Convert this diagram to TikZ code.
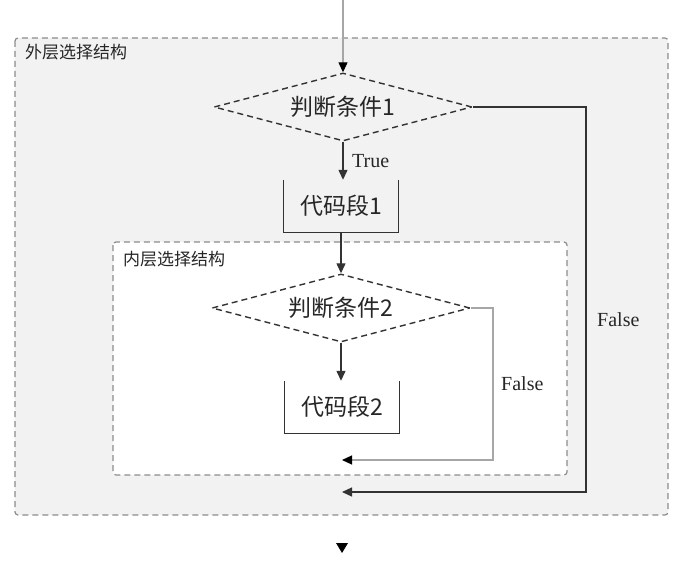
\documentclass[tikz,border=0pt]{standalone}
\usepackage{fontspec}
\setmainfont{Liberation Serif}
\newfontfamily\cjk{Noto Sans CJK SC}
\usetikzlibrary{shapes.geometric,arrows.meta}
\definecolor{outerbg}{HTML}{F2F2F2}
\definecolor{framegray}{HTML}{8C8C8C}
\definecolor{linedark}{HTML}{333333}
\definecolor{linelight}{HTML}{A6A6A6}
\tikzset{
  frame/.style={draw=framegray, line width=1.2pt, dash pattern=on 6pt off 4pt, rounded corners=3pt},
  cond/.style={shape=diamond, draw=linedark, line width=1.4pt, dash pattern=on 6pt off 4pt,
    inner sep=0pt, aspect=3.8, minimum width=258pt, minimum height=68pt,
    font=\cjk\fontsize{23}{26}\selectfont, text=black!85},
  codebox/.style={minimum width=114pt, minimum height=52pt, inner sep=0pt,
    font=\cjk\fontsize{23}{26}\selectfont, text=black!85},
  grouplabel/.style={anchor=west, inner sep=0pt, font=\cjk\fontsize{17}{20}\selectfont, text=black!85},
  branch/.style={inner sep=0pt, font=\fontsize{20}{22}\selectfont, text=black!85},
  flow/.style={line width=1.3pt, draw=linedark, -{Triangle[width=9pt,length=10pt]}},
  flowlight/.style={line width=1.2pt, draw=linelight, -{Triangle[width=9pt,length=10pt,fill=black,color=black]}},
  openbox/.style={line width=1.3pt, draw=linedark},
}
\begin{document}
\begin{tikzpicture}[x=1pt,y=-1pt]
  \useasboundingbox (0,0) rectangle (682,567);

  % group frames
  \draw[frame, fill=outerbg] (15,38) rectangle (668,515);
  \draw[frame, fill=white] (113,242) rectangle (567,475);
  \node[grouplabel] (lblout) at (25,52) {外层选择结构};
  \node[grouplabel] (lblin) at (123,259) {内层选择结构};

  % flow elements
  \coordinate (entry) at (343,0);
  \node[cond] (c1) at (343,107) {判断条件1};
  \node[codebox] (s1) at (341,206) {代码段1};
  \node[cond] (c2) at (341,308) {判断条件2};
  \node[codebox] (s2) at (342,407) {代码段2};
  \draw[openbox] (s1.north west) -- (s1.south west) -- (s1.south east) -- (s1.north east);
  \draw[openbox] (s2.north west) -- (s2.south west) -- (s2.south east) -- (s2.north east);

  % merge points
  \coordinate (join2) at (342,460);
  \coordinate (join1) at (342,492);
  \coordinate (turn2) at (493,308);
  \coordinate (turn1) at (586,107);

  % connectors
  \draw[flowlight] (entry) -- (c1.north);
  \draw[flow] (c1.south) -- (s1.north -| c1.south);
  \draw[flow] (s1.south) -- (c2.north);
  \draw[flow] (c2.south) -- (s2.north -| c2.south);
  \draw[flowlight] (c2.east) -- (turn2) -- (turn2 |- join2) -- (join2);
  \draw[flow] (c1.east) -- (turn1) -- (turn1 |- join1) -- (join1);

  % branch labels
  \node[branch, anchor=west] (ltrue) at (352,161) {True};
  \node[branch, anchor=west] (lfalse1) at (597,320) {False};
  \node[branch, anchor=west] (lfalse2) at (501,384) {False};

  % exit marker
  \fill[black] (336,543) -- (348,543) -- (342,553) -- cycle;
\end{tikzpicture}
\end{document}
